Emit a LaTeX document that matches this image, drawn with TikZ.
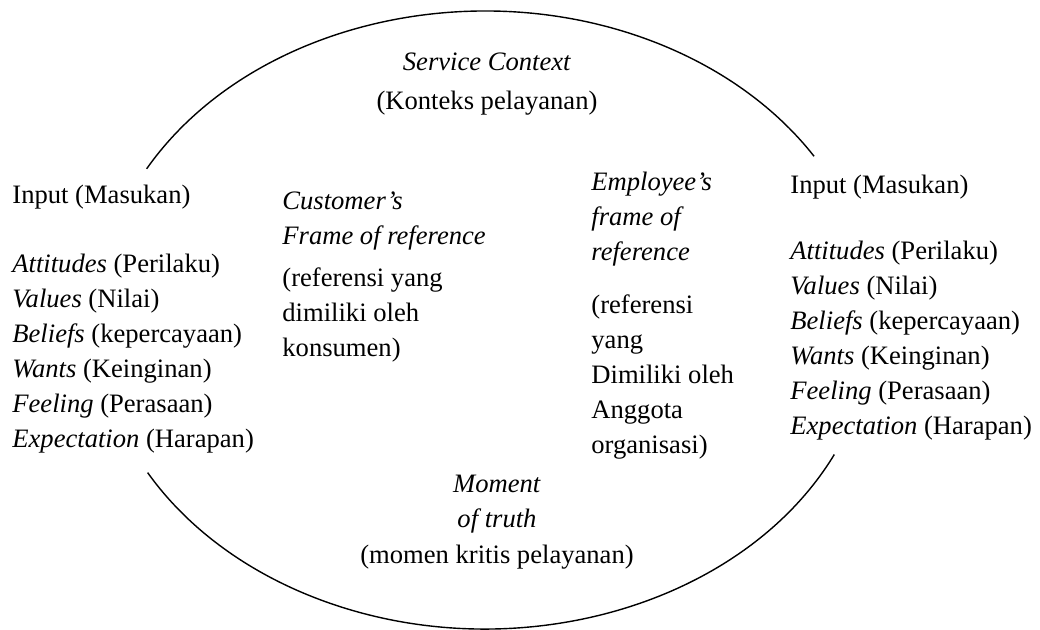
\documentclass[tikz,border=0pt]{standalone}
\usepackage{fontspec}
\setmainfont{Liberation Serif}

\begin{document}
\begin{tikzpicture}[
    x=0.5pt, y=-0.5pt,
    txt/.style={font=\fontsize{13.3}{15}\selectfont, inner sep=0pt, anchor=base west},
    ctxt/.style={txt, anchor=base},
    rim/.style={line width=0.7pt, black}
]
\useasboundingbox (0,0) rectangle (1040,629);

% Service context ellipse (broken at the sides)
\coordinate (ctr) at (485,320);
\draw[rim] ([shift={(209.3:388 and 309)}]ctr) arc[start angle=209.3, end angle=328, x radius=388, y radius=309];
\draw[rim] ([shift={(25.8:388 and 309)}]ctr) arc[start angle=25.8, end angle=150.4, x radius=388, y radius=309];

% Service context
\node[ctxt] (ctx) at (487,70) {\textit{Service Context}};
\node[ctxt] (ctxid) at (487,109) {(Konteks pelayanan)};

% Customer input
\node[txt] (inL) at (12,203) {Input (Masukan)};
\foreach \item [count=\i] in {{\textit{Attitudes} (Perilaku)}, {\textit{Values} (Nilai)}, {\textit{Beliefs} (kepercayaan)}, {\textit{Wants} (Keinginan)}, {\textit{Feeling} (Perasaan)}, {\textit{Expectation} (Harapan)}}
    \node[txt] (inL\i) at (12,{272+(\i-1)*35}) {\item};

% Employee input
\node[txt] (inR) at (790,193) {Input (Masukan)};
\foreach \item [count=\i] in {{\textit{Attitudes} (Perilaku)}, {\textit{Values} (Nilai)}, {\textit{Beliefs} (kepercayaan)}, {\textit{Wants} (Keinginan)}, {\textit{Feeling} (Perasaan)}, {\textit{Expectation} (Harapan)}}
    \node[txt] (inR\i) at (790,{259+(\i-1)*35}) {\item};

% Customer's frame of reference
\node[txt] (cus1) at (282,209) {\textit{Customer’s}};
\node[txt] (cus2) at (282,244) {\textit{Frame of reference}};
\node[txt] (cus3) at (282,286) {(referensi yang};
\node[txt] (cus4) at (282,321) {dimiliki oleh};
\node[txt] (cus5) at (282,356) {konsumen)};

% Employee's frame of reference
\node[txt] (emp1) at (591,190) {\textit{Employee’s}};
\node[txt] (emp2) at (591,225) {\textit{frame of}};
\node[txt] (emp3) at (591,260) {\textit{reference}};
\node[txt] (emp4) at (591,313) {(referensi};
\node[txt] (emp5) at (591,348) {yang};
\node[txt] (emp6) at (591,383) {Dimiliki oleh};
\node[txt] (emp7) at (591,418) {Anggota};
\node[txt] (emp8) at (591,453) {organisasi)};

% Moment of truth
\node[ctxt] (mot1) at (497,492) {\textit{Moment}};
\node[ctxt] (mot2) at (497,527) {\textit{of truth}};
\node[ctxt] (mot3) at (497,563) {(momen kritis pelayanan)};

\end{tikzpicture}
\end{document}
